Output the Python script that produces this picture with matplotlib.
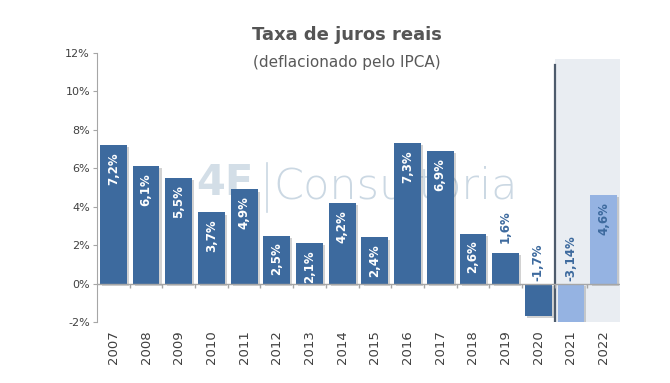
import numpy as np
import matplotlib
matplotlib.use("Agg")
import matplotlib.pyplot as plt
import matplotlib.patheffects as pe
from matplotlib.patches import Rectangle

anos = ["2007", "2008", "2009", "2010", "2011", "2012", "2013", "2014",
        "2015", "2016", "2017", "2018", "2019", "2020", "2021", "2022"]
juros_reais = [7.2, 6.1, 5.5, 3.7, 4.9, 2.5, 2.1, 4.2,
               2.4, 7.3, 6.9, 2.6, 1.6, -1.7, -3.14, 4.6]
rotulos = ["7,2%", "6,1%", "5,5%", "3,7%", "4,9%", "2,5%", "2,1%", "4,2%",
           "2,4%", "7,3%", "6,9%", "2,6%", "1,6%", "-1,7%", "-3,14%", "4,6%"]
projecao = [False] * 14 + [True] * 2
y_ticks = [-2, 0, 2, 4, 6, 8, 10, 12]

AZUL = "#3d6a9e"
AZUL_CLARO = "#95b3e2"
CINZA = "#a6a6a6"
TEXTO = "#404040"
MARCA = "#cbd8e3"

fig = plt.figure(figsize=(6.7, 3.83), dpi=100)
ax = fig.add_axes([0.1448, 0.1593, 0.7806, 0.7023])

x = np.arange(len(anos))
ax.set_xlim(-0.5, len(anos) - 0.5)
ax.set_ylim(-2, 12)

# area de projecao
inicio_proj = projecao.index(True) - 0.5
ax.add_patch(Rectangle((inicio_proj, -2), len(anos) - 0.5 - inicio_proj, 13.7,
                       facecolor="#e9edf2", edgecolor="none", zorder=0))
ax.plot([inicio_proj, inicio_proj], [-2, 11.4], color="#4d5b6c", lw=1.6, zorder=1)

# marca d'agua
ax.text(0.245, 0.515, "4E", transform=ax.transAxes, fontsize=30,
        fontweight="bold", color="#d3dee7", ha="center", va="center", zorder=1)
ax.plot([0.325, 0.325], [0.41, 0.59], transform=ax.transAxes,
        color=MARCA, lw=1.2, zorder=1)
ax.text(0.338, 0.505, "Consultoria", transform=ax.transAxes, fontsize=31,
        family="DejaVu Sans", fontweight="light", color=MARCA,
        ha="left", va="center", zorder=1)

cores = [AZUL_CLARO if p else AZUL for p in projecao]
barras = ax.bar(x, juros_reais, width=0.82, color=cores, zorder=2)
for b in barras:
    b.set_path_effects([pe.SimplePatchShadow(offset=(1.5, -1.5), alpha=0.35,
                                             shadow_rgbFace="#808080"),
                        pe.Normal()])

for xi, v, txt, p in zip(x, juros_reais, rotulos, projecao):
    if v < 0:
        ax.annotate(txt, (xi, 0), xytext=(0, 2), textcoords="offset points",
                    rotation=90, ha="center", va="bottom", fontsize=8.5,
                    fontweight="bold", color=AZUL, zorder=4)
    elif v < 2:
        ax.annotate(txt, (xi, v), xytext=(0, 7), textcoords="offset points",
                    rotation=90, ha="center", va="bottom", fontsize=8.5,
                    fontweight="bold", color=AZUL, zorder=4)
    else:
        ax.annotate(txt, (xi, v), xytext=(0, -5), textcoords="offset points",
                    rotation=90, ha="center", va="top", fontsize=8.5,
                    fontweight="bold", color=AZUL if p else "white", zorder=4)

ax.axhline(0, color=CINZA, lw=1, zorder=3)
ax.vlines(np.arange(0.5, len(anos) - 0.5), -0.22, 0, color=CINZA, lw=1, zorder=3)

ax.set_yticks(y_ticks)
ax.set_yticklabels([f"{t}%" for t in y_ticks], fontsize=8, color=TEXTO)
ax.tick_params(axis="y", length=3, color=CINZA, pad=2)
ax.set_xticks(x)
ax.set_xticklabels(anos, rotation=90, fontsize=9.5, color=TEXTO)
ax.tick_params(axis="x", length=0, pad=6)

for s in ["top", "right", "bottom"]:
    ax.spines[s].set_visible(False)
ax.spines["left"].set_color(CINZA)

fig.text(0.518, 0.908, "Taxa de juros reais", ha="center", va="center",
         fontsize=13, fontweight="bold", color="#555555")
fig.text(0.518, 0.838, "(deflacionado pelo IPCA)", ha="center", va="center",
         fontsize=11, color="#595959")

fig.savefig("out.png", dpi=100)
